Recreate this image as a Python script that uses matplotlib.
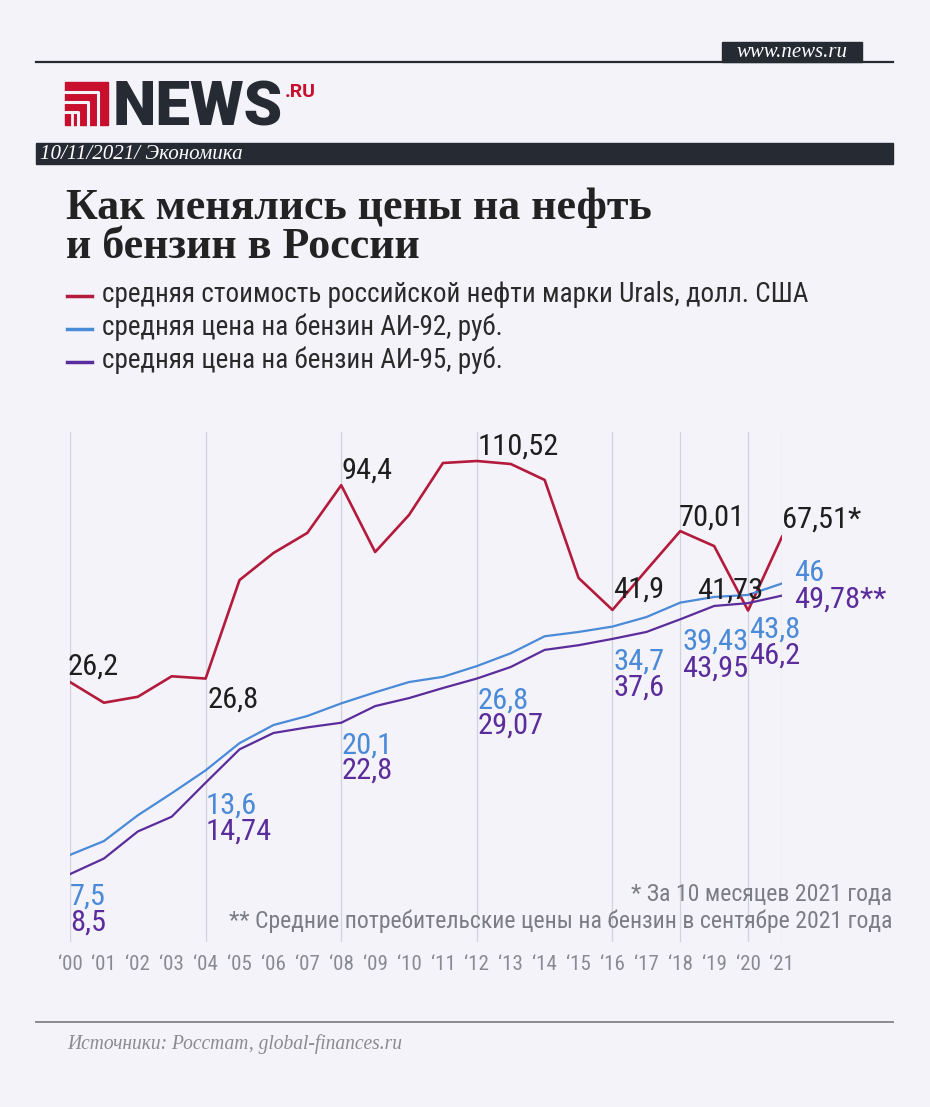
import matplotlib
matplotlib.use('Agg')
import matplotlib.pyplot as plt
from matplotlib import font_manager
from matplotlib.lines import Line2D
from matplotlib.patches import Rectangle

W, H = 930, 1107

# данные
years = list(range(2000, 2022))
urals = [26.2, 22.9, 23.8, 27.2, 26.8, 50.9, 60.7, 69.2, 94.4, 61.1, 77.8,
         109.1, 110.52, 108.4, 97.7, 51.6, 41.9, 54.3, 70.01, 63.5, 41.73, 67.51]
ai92 = [7.5, 8.3, 9.9, 10.9, 13.6, 16.9, 18.8, 19.5, 20.1, 22.4, 23.6,
        25.2, 26.8, 28.9, 32.3, 33.3, 34.7, 36.3, 39.43, 43.0, 43.8, 46.0]
ai95 = [8.5, 9.3, 11.0, 12.7, 14.74, 17.6, 19.8, 21.0, 22.8, 24.5, 26.2,
        27.1, 29.07, 31.6, 35.3, 36.3, 37.6, 40.0, 43.95, 45.6, 46.2, 49.78]
label_years = [2000, 2004, 2008, 2012, 2016, 2018, 2020, 2021]
grid_years = [2000, 2004, 2008, 2012, 2016, 2018, 2020, 2021]

legend_texts = ['средняя стоимость российской нефти марки Urals, долл. США',
                'средняя цена на бензин АИ-92, руб.',
                'средняя цена на бензин АИ-95, руб.']

RED = '#b31a3b'
BLUE = '#4a8ad8'
PURPLE = '#5b2c9b'
DARK = '#262a33'
BG = '#f3f3f9'
GREY = '#7c7c84'
SERIF = 'Liberation Serif'

# узкий шрифт, если есть
fonts = {(f.name, f.stretch) for f in font_manager.fontManager.ttflist}
names = {n for n, s in fonts}
if 'Roboto Condensed' in names:
    NARROW, STRETCH = 'Roboto Condensed', 'normal'
elif 'Liberation Sans Narrow' in names:
    NARROW, STRETCH = 'Liberation Sans Narrow', 'normal'
elif ('Roboto', 'condensed') in fonts:
    NARROW, STRETCH = 'Roboto', 'condensed'
elif ('DejaVu Sans', 'condensed') in fonts:
    NARROW, STRETCH = 'DejaVu Sans', 'condensed'
else:
    NARROW, STRETCH = 'Roboto', 'normal'
NK = dict(family=NARROW, fontstretch=STRETCH)


def fp(x, y):
    """пиксели картинки -> доли фигуры"""
    return x / W, 1 - y / H


fig = plt.figure(figsize=(W / 100, H / 100), dpi=100, facecolor=BG)
renderer = fig.canvas.get_renderer()


def size_for(text, target, **kw):
    """кегль, при котором текст занимает target пикселей по ширине"""
    t = fig.text(0, 0, text, fontsize=20, **kw)
    w = t.get_window_extent(renderer).width
    t.remove()
    return 20 * target / w


# шапка
fig.add_artist(Line2D([fp(36, 0)[0], fp(893, 0)[0]], [fp(0, 62)[1]] * 2,
                      color=DARK, lw=1.6, transform=fig.transFigure))
x0, y0 = fp(722, 62)
fig.add_artist(Rectangle((x0, y0), 140 / W, 20 / H, color=DARK,
                         transform=fig.transFigure))
kw = dict(family=SERIF, style='italic')
fig.text(*fp(792, 57), 'www.news.ru', fontsize=size_for('www.news.ru', 111, **kw),
         color='white', ha='center', va='baseline', **kw)

# логотип
x0, y0 = fp(65, 125)
fig.add_artist(Rectangle((x0, y0), 43 / W, 43 / H, color='#c8102e',
                         transform=fig.transFigure))
for d in [10, 20, 30]:
    xs = [65, 108 - d, 108 - d]
    ys = [82 + d, 82 + d, 125]
    fig.add_artist(Line2D([x / W for x in xs], [1 - y / H for y in ys],
                          color=BG, lw=2.2, transform=fig.transFigure))
fig.add_artist(Line2D([fp(72, 0)[0]] * 2, [fp(0, 113)[1], fp(0, 125)[1]],
                      color=BG, lw=2.0, transform=fig.transFigure))
kw = dict(family='Roboto', fontweight='heavy')
fig.text(*fp(113, 125), 'NEWS', fontsize=size_for('NEWS', 170, **kw),
         color=DARK, ha='left', va='baseline', **kw)
fig.text(*fp(285, 97), '.RU', family='Roboto', fontweight='bold',
         fontsize=14, color='#c8102e', ha='left', va='baseline')

# полоса с датой
x0, y0 = fp(36, 164)
fig.add_artist(Rectangle((x0, y0), 857 / W, 21 / H, color=DARK,
                         transform=fig.transFigure))
kw = dict(family=SERIF, style='italic')
fig.text(*fp(40, 159), '10/11/2021/ Экономика',
         fontsize=size_for('10/11/2021/ Экономика', 202, **kw),
         color='white', ha='left', va='baseline', **kw)

# заголовок
kw = dict(family=SERIF, fontweight='bold')
ts = size_for('Как менялись цены на нефть', 588, **kw)
fig.text(*fp(66, 219), 'Как менялись цены на нефть', fontsize=ts,
         color='#222222', va='baseline', **kw)
fig.text(*fp(66, 258), 'и бензин в России', fontsize=ts,
         color='#222222', va='baseline', **kw)

# легенда
ls = size_for(legend_texts[0], 703, **NK)
for i, (txt, col) in enumerate(zip(legend_texts, [RED, BLUE, PURPLE])):
    yb = 302 + i * 33
    fig.add_artist(Line2D([fp(67, 0)[0], fp(92, 0)[0]], [fp(0, yb - 6)[1]] * 2,
                          color=col, lw=2.5, transform=fig.transFigure))
    fig.text(*fp(102, yb), txt, fontsize=ls, color='#2a2a2a',
             ha='left', va='baseline', **NK)

# график
ax = fig.add_axes([70 / W, 1 - 942 / H, 712 / W, 510 / H])
ax.set_facecolor('none')
ax.set_yscale('log')
ax.set_xlim(2000, 2021)
ax.set_ylim(4.82, 133.5)
for s in ax.spines.values():
    s.set_visible(False)
ax.set_yticks([])
ax.set_yticks([], minor=True)
ax.set_xticks(years)
ax.set_xticklabels([f'‘{y % 100:02d}' for y in years],
                   fontsize=size_for('‘00', 25, **NK), color='#8a8a92', **NK)
ax.tick_params(axis='x', length=0, pad=9)

for gy in grid_years:
    ax.axvline(gy, color='#d2d2da', lw=0.9, zorder=0)

ax.plot(years, urals, color=RED, lw=1.9, zorder=3)
# в оригинале синяя линия идёт по ценам АИ-95, фиолетовая — по АИ-92
ax.plot(years, ai95, color=BLUE, lw=1.6, zorder=3)
ax.plot(years, ai92, color=PURPLE, lw=1.6, zorder=3)


def fmt(v):
    return f'{v:g}'.replace('.', ',')


fs = size_for('110,52', 81, **NK)

# подписи нефти: (dx, dy) в пикселях, выравнивание
urals_off = [(-2, 7, 'left'), (2, -29, 'left'), (0, 7, 'left'), (1, 6, 'left'),
             (1, 12, 'left'), (-2, 6, 'left'), (15, 12, 'right'), (0, 9, 'left')]
for yr, (dx, dy, ha) in zip(label_years, urals_off):
    v = urals[years.index(yr)]
    t = fmt(v) + ('*' if yr == 2021 else '')
    ax.annotate(t, (yr, v), xytext=(dx * 0.72, dy * 0.72), textcoords='offset points',
                ha=ha, va='baseline', fontsize=fs, color='#1e1e1e',
                annotation_clip=False, **NK)

# подписи бензина, привязаны к нижней (фиолетовой) линии
gas_off = [(0, -30, -56), (0, -31, -57), (0, -31, -56), (1, -30, -55),
           (1, -31, -57), (2, -30, -57), (1, -34, -60), (12, 15, -12)]
for yr, (dx, dy1, dy2) in zip(label_years, gas_off):
    i = years.index(yr)
    t2 = fmt(ai95[i]) + ('**' if yr == 2021 else '')
    ax.annotate(fmt(ai92[i]), (yr, ai92[i]), xytext=(dx * 0.72, dy1 * 0.72),
                textcoords='offset points', ha='left', va='baseline', fontsize=fs,
                color=BLUE, annotation_clip=False, **NK)
    ax.annotate(t2, (yr, ai92[i]), xytext=(dx * 0.72, dy2 * 0.72),
                textcoords='offset points', ha='left', va='baseline', fontsize=fs,
                color=PURPLE, annotation_clip=False, **NK)

# сноски
note2 = '** Средние потребительские цены на бензин в сентябре 2021 года'
ns = size_for(note2, 663, **NK)
fig.text(*fp(892, 901), '* За 10 месяцев 2021 года', fontsize=ns,
         color=GREY, ha='right', va='baseline', **NK)
fig.text(*fp(892, 928), note2, fontsize=ns, color=GREY, ha='right',
         va='baseline', **NK)

# подвал
fig.add_artist(Line2D([fp(36, 0)[0], fp(893, 0)[0]], [fp(0, 1022)[1]] * 2,
                      color='#8a8a90', lw=1.4, transform=fig.transFigure))
src = 'Источники: Росстат, global-finances.ru'
kw = dict(family=SERIF, style='italic')
fig.text(*fp(67, 1049), src, fontsize=size_for(src, 336, **kw),
         color='#8a8a90', ha='left', va='baseline', **kw)

fig.savefig('out.png', dpi=100, facecolor=BG)
